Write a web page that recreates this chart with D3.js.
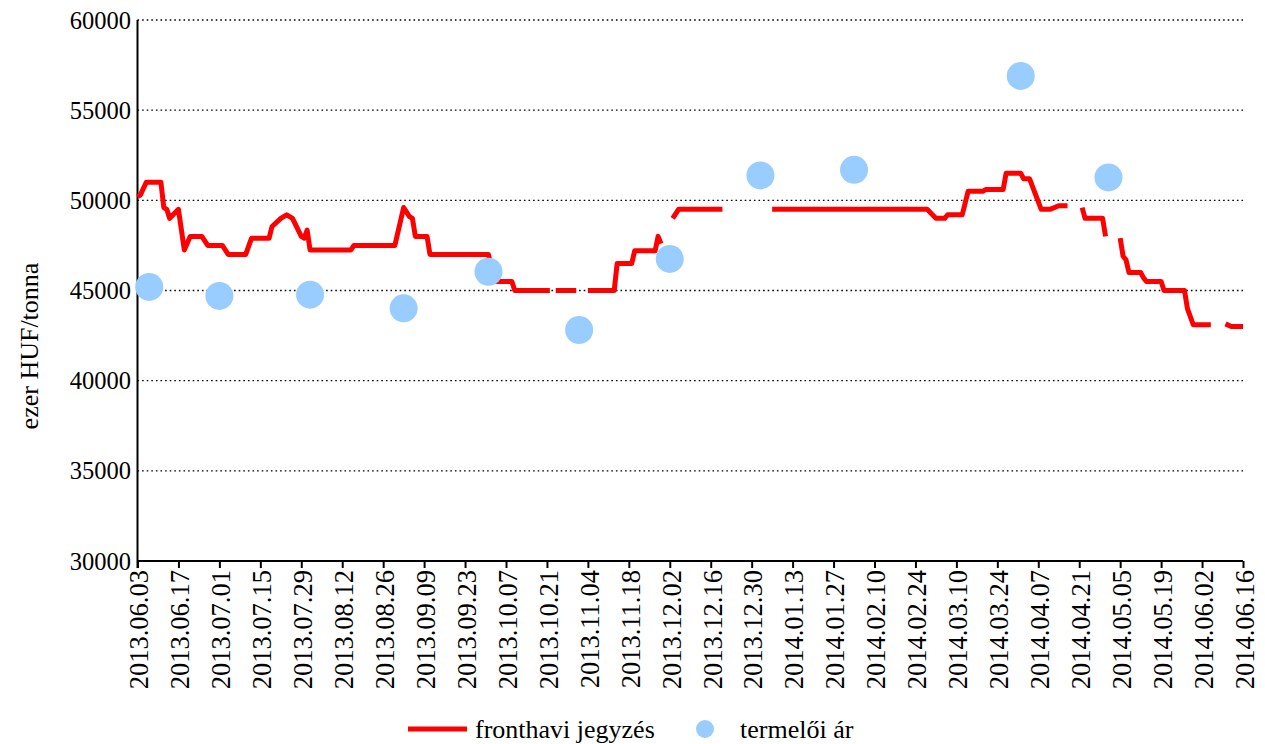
<!DOCTYPE html>
<html><head><meta charset="utf-8">
<script src="https://cdn.jsdelivr.net/npm/d3@7"></script>
<style>body{margin:0;background:#fff}svg{display:block}</style>
</head><body><svg id="c" width="1265" height="744"></svg>
<script>
// fronthavi jegyzés (front-month quote); null = break in the line
const quoteDates = ["2013-06-03","2013-06-04","2013-06-06","2013-06-11","2013-06-12","2013-06-13","2013-06-14","2013-06-17","2013-06-19","2013-06-21","2013-06-25","2013-06-27","2013-07-02","2013-07-04","2013-07-10","2013-07-12","2013-07-18","2013-07-19","2013-07-22","2013-07-24","2013-07-26","2013-07-29","2013-07-30","2013-07-31","2013-08-01","2013-08-15","2013-08-16","2013-08-30","2013-09-02","2013-09-04","2013-09-05","2013-09-06","2013-09-10","2013-09-11","2013-10-01","2013-10-03","2013-10-09","2013-10-10","2013-10-22","2013-10-23","2013-10-24","2013-10-31","2013-11-01","2013-11-04","2013-11-13","2013-11-14","2013-11-19","2013-11-20","2013-11-27","2013-11-28","2013-11-29","2013-11-30","2013-12-03","2013-12-05","2013-12-20","2013-12-21","2014-01-06","2014-02-28","2014-03-03","2014-03-06","2014-03-07","2014-03-12","2014-03-14","2014-03-19","2014-03-20","2014-03-26","2014-03-27","2014-04-01","2014-04-02","2014-04-04","2014-04-08","2014-04-11","2014-04-14","2014-04-17","2014-04-18","2014-04-22","2014-04-23","2014-04-29","2014-04-30","2014-05-01","2014-05-05","2014-05-06","2014-05-07","2014-05-08","2014-05-12","2014-05-13","2014-05-14","2014-05-19","2014-05-20","2014-05-27","2014-05-28","2014-05-30","2014-06-05","2014-06-06","2014-06-10","2014-06-12","2014-06-16"];
const quoteValues = [50200,50300,51000,51000,49600,49500,49000,49500,47250,48000,48000,47500,47500,47000,47000,47900,47900,48550,49000,49200,49000,48000,47900,48350,47250,47250,47500,47500,49600,49100,49000,48000,48000,47000,47000,45500,45500,45000,45000,null,45000,45000,null,45000,45000,46500,46500,47200,47200,48000,47600,null,49000,49500,49500,null,49500,49500,49000,49000,49200,49200,50500,50500,50600,50600,51500,51500,51200,51200,49500,49500,49700,49700,null,49600,49000,49000,48000,null,47900,46900,46700,46000,46000,45700,45500,45500,45000,45000,44000,43100,43100,null,43150,43000,43000];
// termelői ár (producer price)
const priceDates = ["2013-06-07","2013-07-01","2013-08-01","2013-09-02","2013-10-01","2013-11-01","2013-12-02","2014-01-02","2014-02-03","2014-04-01","2014-05-01"];
const priceValues = [45200,44700,44770,44010,46040,42810,46750,51380,51690,56900,51270];
const yTicks = [30000,35000,40000,45000,50000,55000,60000];
const xTickLabels = ["2013.06.03","2013.06.17","2013.07.01","2013.07.15","2013.07.29","2013.08.12","2013.08.26","2013.09.09","2013.09.23","2013.10.07","2013.10.21","2013.11.04","2013.11.18","2013.12.02","2013.12.16","2013.12.30","2014.01.13","2014.01.27","2014.02.10","2014.02.24","2014.03.10","2014.03.24","2014.04.07","2014.04.21","2014.05.05","2014.05.19","2014.06.02","2014.06.16"];
const yTitle = "ezer HUF/tonna";
const seriesNames = ["fronthavi jegyzés","termelői ár"];

const FONT = "'Liberation Serif','Times New Roman',Tinos,serif";
const parse = d3.utcParse("%Y-%m-%d");
const parseTick = d3.utcParse("%Y.%m.%d");
const svg = d3.select("#c");
const L = 137.5, R = 1243, T = 20, B = 561;
const x = d3.scaleUtc().domain([parseTick(xTickLabels[0]), parseTick(xTickLabels[xTickLabels.length-1])]).range([L, R]);
const y = d3.scaleLinear().domain([30000, 60000]).range([B, T]);

// gridlines
svg.append("g").selectAll("line").data(yTicks.filter(v => v > 30000)).join("line")
  .attr("x1", L).attr("x2", R).attr("y1", d => y(d)).attr("y2", d => y(d))
  .attr("stroke", "#000").attr("stroke-width", 1.3).attr("stroke-dasharray", "1.6,3");

// y labels
svg.append("g").selectAll("text").data(yTicks).join("text")
  .attr("x", 131).attr("y", d => y(d)).attr("dy", "0.35em").attr("text-anchor", "end")
  .style("font-family", FONT).style("font-size", "24.5px").attr("fill", "#000").text(d => d);

// x axis
const xAxis = d3.axisBottom(x).tickValues(xTickLabels.map(parseTick)).tickSize(7).tickFormat(d3.utcFormat("%Y.%m.%d"));
const gx = svg.append("g").attr("transform", `translate(0,${B})`).call(xAxis);
gx.select(".domain").attr("stroke", "#000").attr("stroke-width", 2).attr("d", `M${L},0H${R}`);
gx.selectAll(".tick line").attr("stroke", "#000").attr("stroke-width", 2);
gx.selectAll(".tick text").style("font-family", FONT).style("font-size", "26.5px").attr("fill", "#000")
  .attr("transform", "rotate(-90)").attr("text-anchor", "end").attr("x", -9).attr("y", 1).attr("dy", "0.35em");

// y axis line
svg.append("line").attr("x1", L).attr("x2", L).attr("y1", T).attr("y2", B + 7)
  .attr("stroke", "#000").attr("stroke-width", 2);

// y title
svg.append("text").attr("transform", "translate(38,346) rotate(-90)").attr("text-anchor", "middle")
  .style("font-family", FONT).style("font-size", "26px").attr("fill", "#000").text(yTitle);

// quote line
const qData = quoteDates.map((d, i) => ({date: parse(d), v: quoteValues[i]}));
const line = d3.line().defined(d => d.v !== null).x(d => x(d.date)).y(d => y(d.v));
svg.append("path").datum(qData).attr("d", line).attr("fill", "none")
  .attr("stroke", "#ff0000").attr("stroke-width", 5).attr("stroke-linejoin", "round");

// price points
const pData = priceDates.map((d, i) => ({date: parse(d), v: priceValues[i]}));
svg.append("g").selectAll("circle").data(pData).join("circle")
  .attr("cx", d => x(d.date)).attr("cy", d => y(d.v)).attr("r", 14).attr("fill", "#99ccff");

// legend
const lg = svg.append("g");
lg.append("line").attr("x1", 408).attr("x2", 467).attr("y1", 729).attr("y2", 729).attr("stroke", "#ff0000").attr("stroke-width", 5);
lg.append("text").attr("x", 475).attr("y", 738).style("font-family", FONT).style("font-size", "26px").attr("fill", "#000").text(seriesNames[0]);
lg.append("circle").attr("cx", 705).attr("cy", 729).attr("r", 9).attr("fill", "#99ccff");
lg.append("text").attr("x", 740).attr("y", 738).style("font-family", FONT).style("font-size", "26px").attr("fill", "#000").text(seriesNames[1]);
</script></body></html>
